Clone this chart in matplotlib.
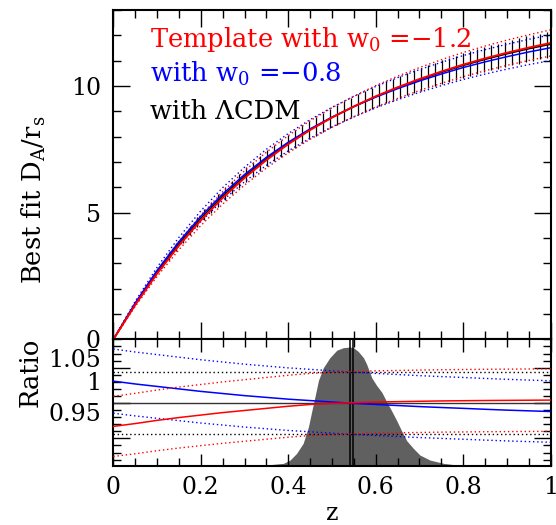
import matplotlib.pyplot as plt
import matplotlib.transforms as mtransforms
import numpy as np

plt.rcParams['font.family'] = 'DejaVu Serif'
plt.rcParams['mathtext.fontset'] = 'dejavuserif'

# best-fit D_A/r_s for LCDM
z_fit = [0.0, 0.05, 0.10, 0.15, 0.20, 0.25, 0.30, 0.35, 0.40, 0.45, 0.50,
         0.55, 0.60, 0.65, 0.70, 0.75, 0.80, 0.85, 0.90, 0.95, 1.00]
da_fit = [0.0, 1.40, 2.66, 3.78, 4.78, 5.66, 6.44, 7.13, 7.74, 8.28, 8.76,
          9.19, 9.58, 9.93, 10.25, 10.54, 10.81, 11.05, 11.27, 11.47, 11.65]

# ratio of the template fits to LCDM
ratio_w12 = [0.967, 0.971, 0.9755, 0.9795, 0.983, 0.9865, 0.9895, 0.9925, 0.9955, 0.998, 0.9995,
             1.0005, 1.0015, 1.002, 1.0025, 1.003, 1.0033, 1.0036, 1.0038, 1.004, 1.0042]
ratio_w08 = [1.031, 1.027, 1.0235, 1.020, 1.0165, 1.0135, 1.0105, 1.008, 1.0055, 1.0035, 1.0015,
             0.9995, 0.998, 0.9965, 0.995, 0.9937, 0.9925, 0.9912, 0.990, 0.989, 0.988]

# error bars (fractional error)
frac_err = 0.044
z_bar = np.round(np.arange(1, 63) * 0.016, 3)
da_bar = [0.46, 0.91, 1.35, 1.76, 2.16, 2.56, 2.93, 3.29, 3.65, 3.98,
          4.30, 4.62, 4.92, 5.20, 5.48, 5.75, 6.00, 6.25, 6.50, 6.72,
          6.94, 7.15, 7.35, 7.54, 7.74, 7.91, 8.09, 8.26, 8.41, 8.57,
          8.72, 8.86, 9.00, 9.14, 9.27, 9.39, 9.52, 9.64, 9.75, 9.86,
          9.97, 10.07, 10.17, 10.27, 10.37, 10.46, 10.55, 10.64, 10.72, 10.81,
          10.89, 10.96, 11.04, 11.11, 11.18, 11.25, 11.32, 11.38, 11.45, 11.51,
          11.56, 11.62]

# redshift distribution (relative height)
z_nz = [0.25, 0.274, 0.351, 0.389, 0.404, 0.419, 0.434, 0.446, 0.454, 0.461,
        0.469, 0.480, 0.495, 0.511, 0.526, 0.541, 0.549, 0.560, 0.572, 0.579,
        0.591, 0.602, 0.614, 0.625, 0.636, 0.648, 0.659, 0.671, 0.686, 0.701,
        0.724, 0.755, 0.785, 0.808]
nz = [0, 0.002, 0.008, 0.021, 0.047, 0.10, 0.18, 0.31, 0.44, 0.55,
      0.68, 0.78, 0.86, 0.92, 0.94, 0.945, 0.94, 0.91, 0.86, 0.81,
      0.70, 0.64, 0.585, 0.51, 0.44, 0.36, 0.28, 0.20, 0.14, 0.087,
      0.047, 0.021, 0.008, 0]
z_mean = [0.541, 0.548]

z_fit = np.array(z_fit)
da_fit = np.array(da_fit)
ratio_w12 = np.array(ratio_w12)
ratio_w08 = np.array(ratio_w08)
da_bar = np.array(da_bar)
nz = np.array(nz)

dot = (0, (1, 2))
fig = plt.figure(figsize=(5.56, 5.25), dpi=100)
ax1 = fig.add_axes([0.2038, 0.3535, 0.7867, 0.6275])
ax2 = fig.add_axes([0.2038, 0.1124, 0.7867, 0.2411])

# top panel
ax1.vlines(z_bar, da_bar*(1-frac_err), da_bar*(1+frac_err), color='k', lw=0.9)
for r, col in [(ratio_w08, 'b'), (ratio_w12, 'r')]:
    ax1.plot(z_fit, da_fit*r*(1+frac_err), ls=dot, color=col, lw=1.0)
    ax1.plot(z_fit, da_fit*r*(1-frac_err), ls=dot, color=col, lw=1.0)
ax1.plot(z_fit, da_fit, color='k', lw=1.1)
ax1.plot(z_fit, da_fit*ratio_w08, color='b', lw=1.1)
ax1.plot(z_fit, da_fit*ratio_w12, color='r', lw=1.4)
ax1.set_xlim(0, 1)
ax1.set_ylim(0, 13)
ax1.set_yticks([0, 5, 10])
ax1.set_yticks(np.arange(0, 14, 1), minor=True)
ax1.set_xticks(np.arange(0, 1.01, 0.2))
ax1.set_xticks(np.arange(0, 1.01, 0.05), minor=True)
ax1.tick_params(labelbottom=False)

lsize = 18.5
ax1.text(0.084, 0.889, 'Template with w$_0$ =\u22121.2', color='r', fontsize=lsize,
         transform=ax1.transAxes, va='baseline')
ax1.text(0.084, 0.782, 'with w$_0$ =\u22120.8', color='b', fontsize=lsize,
         transform=ax1.transAxes, va='baseline')
ax1.text(0.084, 0.669, 'with \u039bCDM', color='k', fontsize=lsize,
         transform=ax1.transAxes, va='baseline')

# bottom panel
ylo, yhi = 0.911, 1.089
ax2.fill_between(z_nz, ylo, ylo + nz*(yhi-ylo), color='#606060', lw=0, zorder=1)
for zm in z_mean:
    ax2.axvline(zm, color='k', lw=1.1, zorder=2)
ax2.axhline(1.0, color='#333333', lw=1.0, zorder=2)
ax2.axhline(1+frac_err, color='k', ls=dot, lw=1.0, zorder=2)
ax2.axhline(1-frac_err, color='k', ls=dot, lw=1.0, zorder=2)
for r, col in [(ratio_w08, 'b'), (ratio_w12, 'r')]:
    ax2.plot(z_fit, r*(1+frac_err), ls=dot, color=col, lw=1.0, zorder=3)
    ax2.plot(z_fit, r*(1-frac_err), ls=dot, color=col, lw=1.0, zorder=3)
    ax2.plot(z_fit, r, color=col, lw=1.1, zorder=3)
ax2.set_xlim(0, 1)
ax2.set_ylim(ylo, yhi)
ax2.set_xticks(np.arange(0, 1.01, 0.2))
ax2.set_xticklabels(['0', '0.2', '0.4', '0.6', '0.8', '1'])
ax2.set_xticks(np.arange(0, 1.01, 0.05), minor=True)
ax2.set_yticks([0.95, 1.0, 1.05])
ax2.set_yticklabels(['0.95', '1', '1.05'])
ax2.set_yticks(np.arange(0.92, 1.09, 0.01), minor=True)

for ax in (ax1, ax2):
    ax.tick_params(which='both', direction='in', top=True, right=True,
                   labelsize=17, pad=9, width=1.0)
    ax.tick_params(which='major', length=12)
    ax.tick_params(which='minor', length=6)
    for sp in ax.spines.values():
        sp.set_linewidth(1.5)
ax2.tick_params(axis='x', which='major', length=9, pad=7)

# the ratio labels sit above their ticks (shift in points)
shifts = {'0.95': 19, '1': 16, '1.05': 7}
for lab in ax2.get_yticklabels():
    dy = shifts[lab.get_text()]
    lab.set_transform(lab.get_transform() +
                      mtransforms.ScaledTranslation(0, dy/72, fig.dpi_scale_trans))

fig.text(41.7/556, 1-200/525, r'Best fit D$_\mathrm{A}$/r$_\mathrm{s}$', fontsize=lsize,
         rotation=90, rotation_mode='anchor', ha='center', va='baseline')
fig.text(37.3/556, 1-372/525, 'Ratio', fontsize=lsize, rotation=90,
         rotation_mode='anchor', ha='center', va='baseline')
fig.text(332/556, 1-520/525, 'z', fontsize=17, ha='center', va='baseline')

fig.savefig('out.png', dpi=100)
